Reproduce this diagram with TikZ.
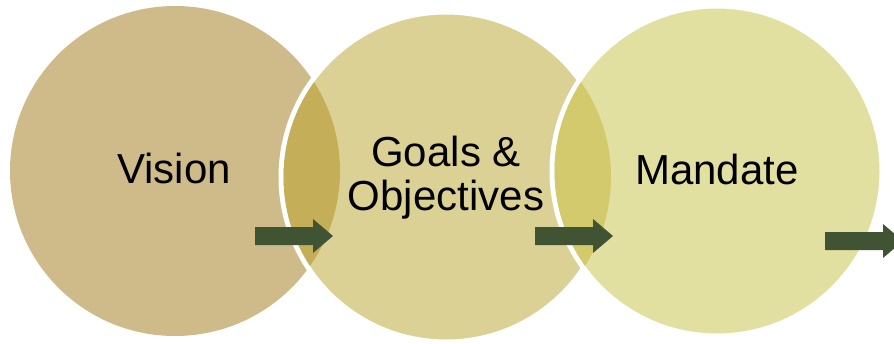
\documentclass[tikz,border=0pt]{standalone}
\usepackage{fontspec}
\setmainfont{Liberation Sans}
\definecolor{visionfill}{RGB}{207,187,137}
\definecolor{goalsfill}{RGB}{219,209,148}
\definecolor{mandatefill}{RGB}{226,224,160}
\definecolor{overlapA}{RGB}{196,175,88}
\definecolor{overlapB}{RGB}{210,202,108}
\definecolor{arrowgreen}{RGB}{64,83,50}
\begin{document}
\begin{tikzpicture}[x=1pt,y=-1pt,
  stage/.style={circle,minimum size=330pt,inner sep=0pt,outer sep=0pt},
  ringed/.style={draw=white,line width=5pt},
  lbl/.style={font=\fontsize{42}{44}\selectfont,align=center,inner sep=0pt},
  blockarrow/.pic={\fill[arrowgreen] (0,-9) -- (58,-9) -- (58,-17) -- (78,0)
      -- (58,17) -- (58,9) -- (0,9) -- cycle;}]
\useasboundingbox (0,0) rectangle (894,343);
\clip (0,0) rectangle (894,343);
% the three stages
\node[stage,fill=visionfill] (vision) at (175,171) {};
\node[stage,fill=goalsfill,ringed] (goals) at (446,177) {};
\begin{scope}
  \clip (vision.center) circle (165pt);
  \fill[overlapA] (goals.center) circle (162.5pt);
\end{scope}
\node[stage,fill=mandatefill,ringed] (mandate) at (717,171) {};
\begin{scope}
  \clip (goals.center) circle (165pt);
  \fill[overlapB] (mandate.center) circle (162.5pt);
\end{scope}
% labels
\node[lbl,anchor=base] (visiontext) at (174,183) {Vision};
\node[lbl,anchor=base] (goalstext) at (446,210) {Goals \&\\Objectives};
\node[lbl,anchor=base] (mandatetext) at (717,184) {Mandate};
% block arrows
\pic at (255,236) {blockarrow};
\pic at (535,236) {blockarrow};
\pic at (825,241) {blockarrow};
\end{tikzpicture}
\end{document}
